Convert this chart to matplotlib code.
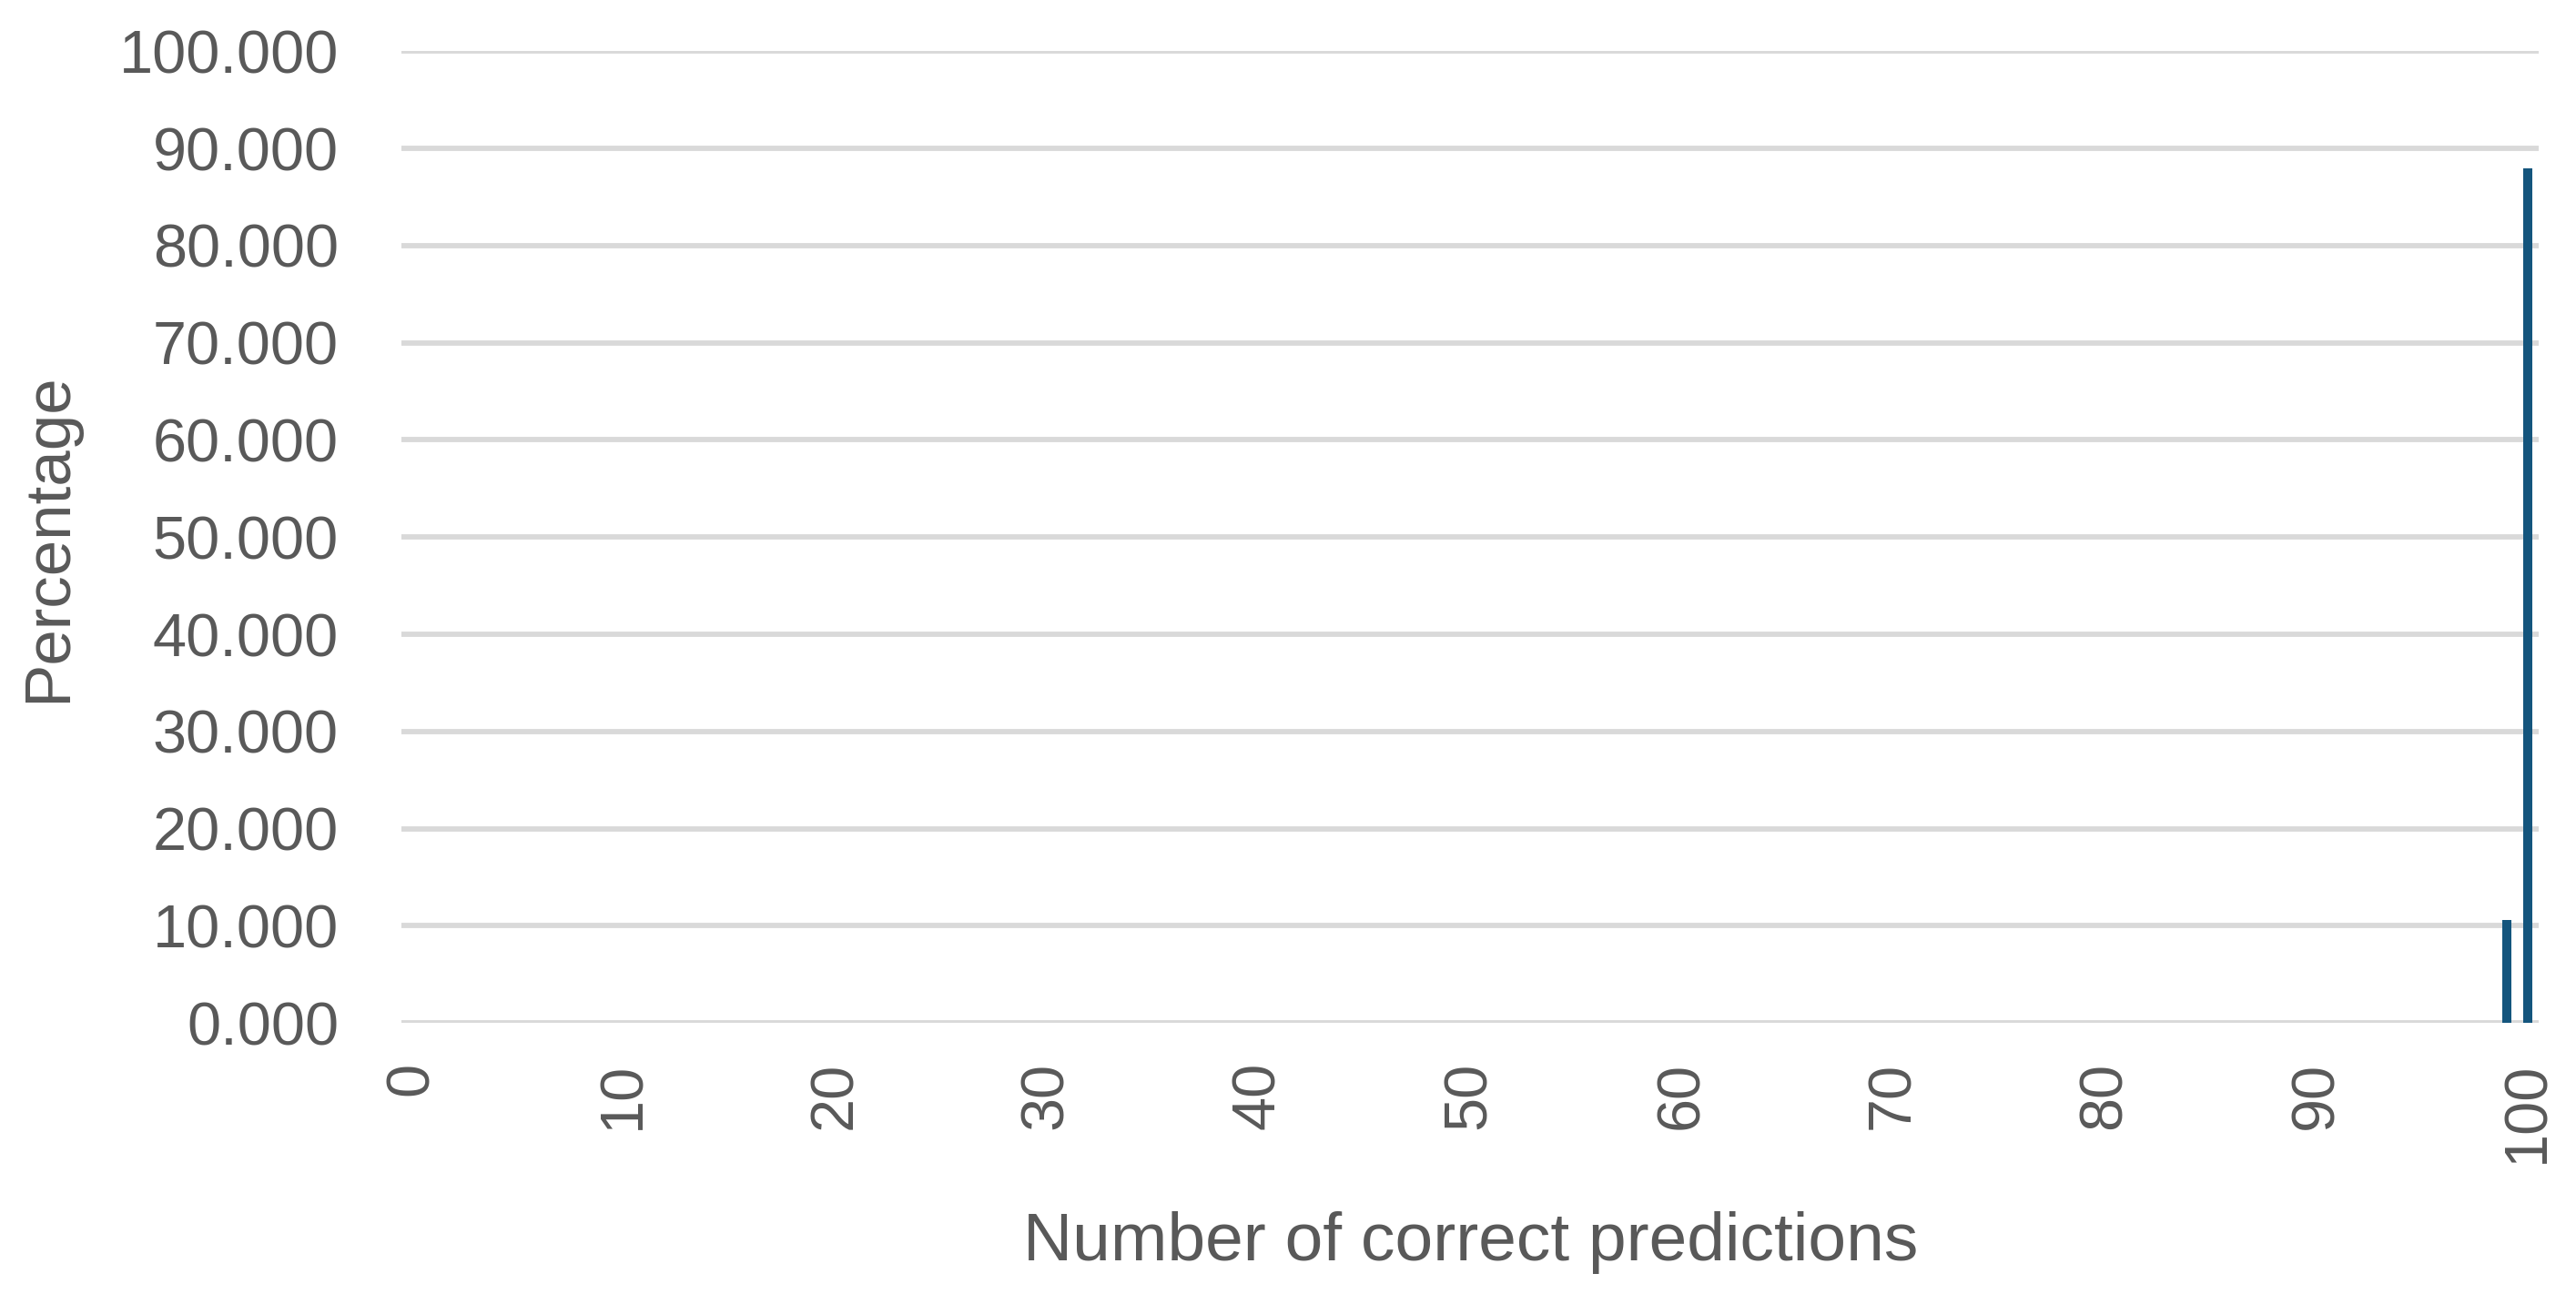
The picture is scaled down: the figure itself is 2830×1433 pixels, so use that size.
import numpy as np
import matplotlib
matplotlib.use("Agg")
import matplotlib.pyplot as plt

# data
correct = list(range(0, 101))
pct = [0.0] * 101
pct[99] = 10.6
pct[100] = 88.0
xticks = list(range(0, 101, 10))
yticks = list(range(0, 101, 10))

grey = "#595959"
plt.rcParams["font.family"] = ["Liberation Sans", "DejaVu Sans"]

fig = plt.figure(figsize=(28.3, 14.33), dpi=100)
ax = fig.add_axes([0.156, 0.2156, 0.8295, 0.745])

ax.bar(correct, pct, width=0.42, color="#14557d", zorder=3)

ax.set_xlim(-0.5, 100.5)
ax.set_ylim(0, 100)
ax.set_yticks(yticks)
ax.set_yticklabels([f"{v:.3f}" for v in yticks])
ax.set_xticks(xticks)
ax.set_xticklabels([str(v) for v in xticks], rotation=90)

ax.grid(axis="y", color="#d9d9d9", linewidth=4.2, zorder=0)
for s in ax.spines.values():
    s.set_visible(False)
ax.tick_params(axis="y", length=0, pad=50, labelsize=48, labelcolor=grey)
ax.tick_params(axis="x", length=0, pad=31, labelsize=48, labelcolor=grey)

ax.set_xlabel("Number of correct predictions", fontsize=54, color=grey, labelpad=38)
ax.set_ylabel("Percentage", fontsize=51, color=grey)
ax.yaxis.set_label_coords(-0.151, 0.5)

fig.savefig("out.png", dpi=100, facecolor="white")
